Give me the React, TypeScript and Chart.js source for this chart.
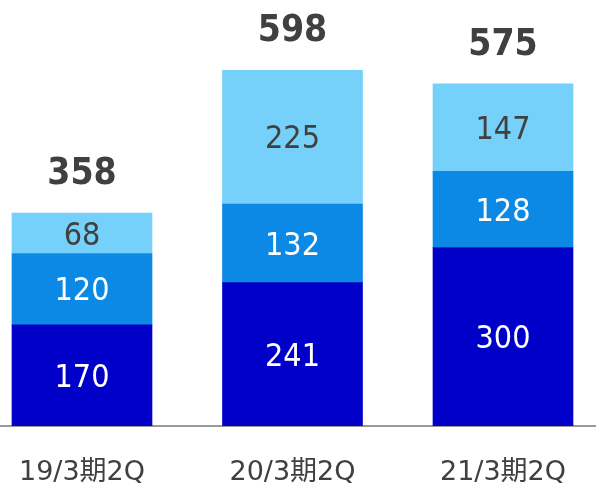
import React, { useEffect, useRef } from "react";
import { Chart, registerables } from "chart.js";

Chart.register(...registerables);

const categories = ["19/3期2Q", "20/3期2Q", "21/3期2Q"];
const seriesBottom = [170, 241, 300];
const seriesMiddle = [120, 132, 128];
const seriesTop = [68, 225, 147];
const totals = [358, 598, 575];

const COLORS = ["#0000C8", "#0B89E4", "#75D0FA"];
const TEXT = "#404040";

const labelPlugin = {
  id: "segLabels",
  afterDatasetsDraw(chart: any) {
    const ctx = chart.ctx;
    ctx.save();
    ctx.textAlign = "center";
    ctx.textBaseline = "middle";
    chart.data.datasets.forEach((ds: any, di: number) => {
      const meta = chart.getDatasetMeta(di);
      meta.data.forEach((el: any, i: number) => {
        const v = ds.data[i].y;
        ctx.font = '32px "DejaVu Sans Condensed", "DejaVu Sans", sans-serif';
        ctx.fillStyle = di === 2 ? TEXT : "#FFFFFF";
        ctx.fillText(String(v), el.x, (el.y + el.base) / 2 + 3);
        if (di === 2) {
          ctx.font = 'bold 37px "DejaVu Sans Condensed", "DejaVu Sans", sans-serif';
          ctx.fillStyle = TEXT;
          ctx.fillText(String(totals[i]), el.x, el.y - 39);
        }
      });
    });
    ctx.restore();
  },
};

export default function App() {
  const ref = useRef<HTMLCanvasElement>(null);
  useEffect(() => {
    document.body.style.margin = "0";
    const mk = (arr: number[]) => arr.map((y, i) => ({ x: i, y }));
    const chart = new Chart(ref.current!, {
      type: "bar",
      data: {
        datasets: [
          { data: mk(seriesBottom), backgroundColor: COLORS[0], barThickness: 140 },
          { data: mk(seriesMiddle), backgroundColor: COLORS[1], barThickness: 140 },
          { data: mk(seriesTop), backgroundColor: COLORS[2], barThickness: 140 },
        ] as any,
      },
      options: {
        animation: false,
        responsive: false,
        layout: { padding: 0, autoPadding: false },
        plugins: { legend: { display: false }, tooltip: { enabled: false } },
        scales: {
          x: {
            type: "linear",
            stacked: true,
            offset: false,
            min: -0.3895,
            max: 2.4418,
            grid: { display: false, drawTicks: false, offset: false },
            border: { display: true, color: "#999999", width: 2 },
            afterDataLimits: (s: any) => {
              s.min = -0.3895;
              s.max = 2.4418;
            },
            afterBuildTicks: (s: any) => {
              s.ticks = categories.map((_, i) => ({ value: i }));
            },
            afterFit: (s: any) => {
              s.height = 60;
              s.paddingLeft = 0;
              s.paddingRight = 0;
            },
            ticks: {
              padding: 31,
              color: TEXT,
              font: { family: '"DejaVu Sans", "Noto Sans CJK JP", sans-serif', size: 27 },
              callback: (v: any) => categories[v] ?? "",
              maxRotation: 0,
              autoSkip: false,
            },
          },
          y: {
            stacked: true,
            display: false,
            min: 0,
            max: 716,
          },
        },
      },
      plugins: [labelPlugin],
    } as any);
    return () => chart.destroy();
  }, []);
  return (
    <div style={{ position: "absolute", left: 0, top: 0, width: 596, height: 486 }}>
      <canvas ref={ref} width={596} height={486} />
    </div>
  );
}
